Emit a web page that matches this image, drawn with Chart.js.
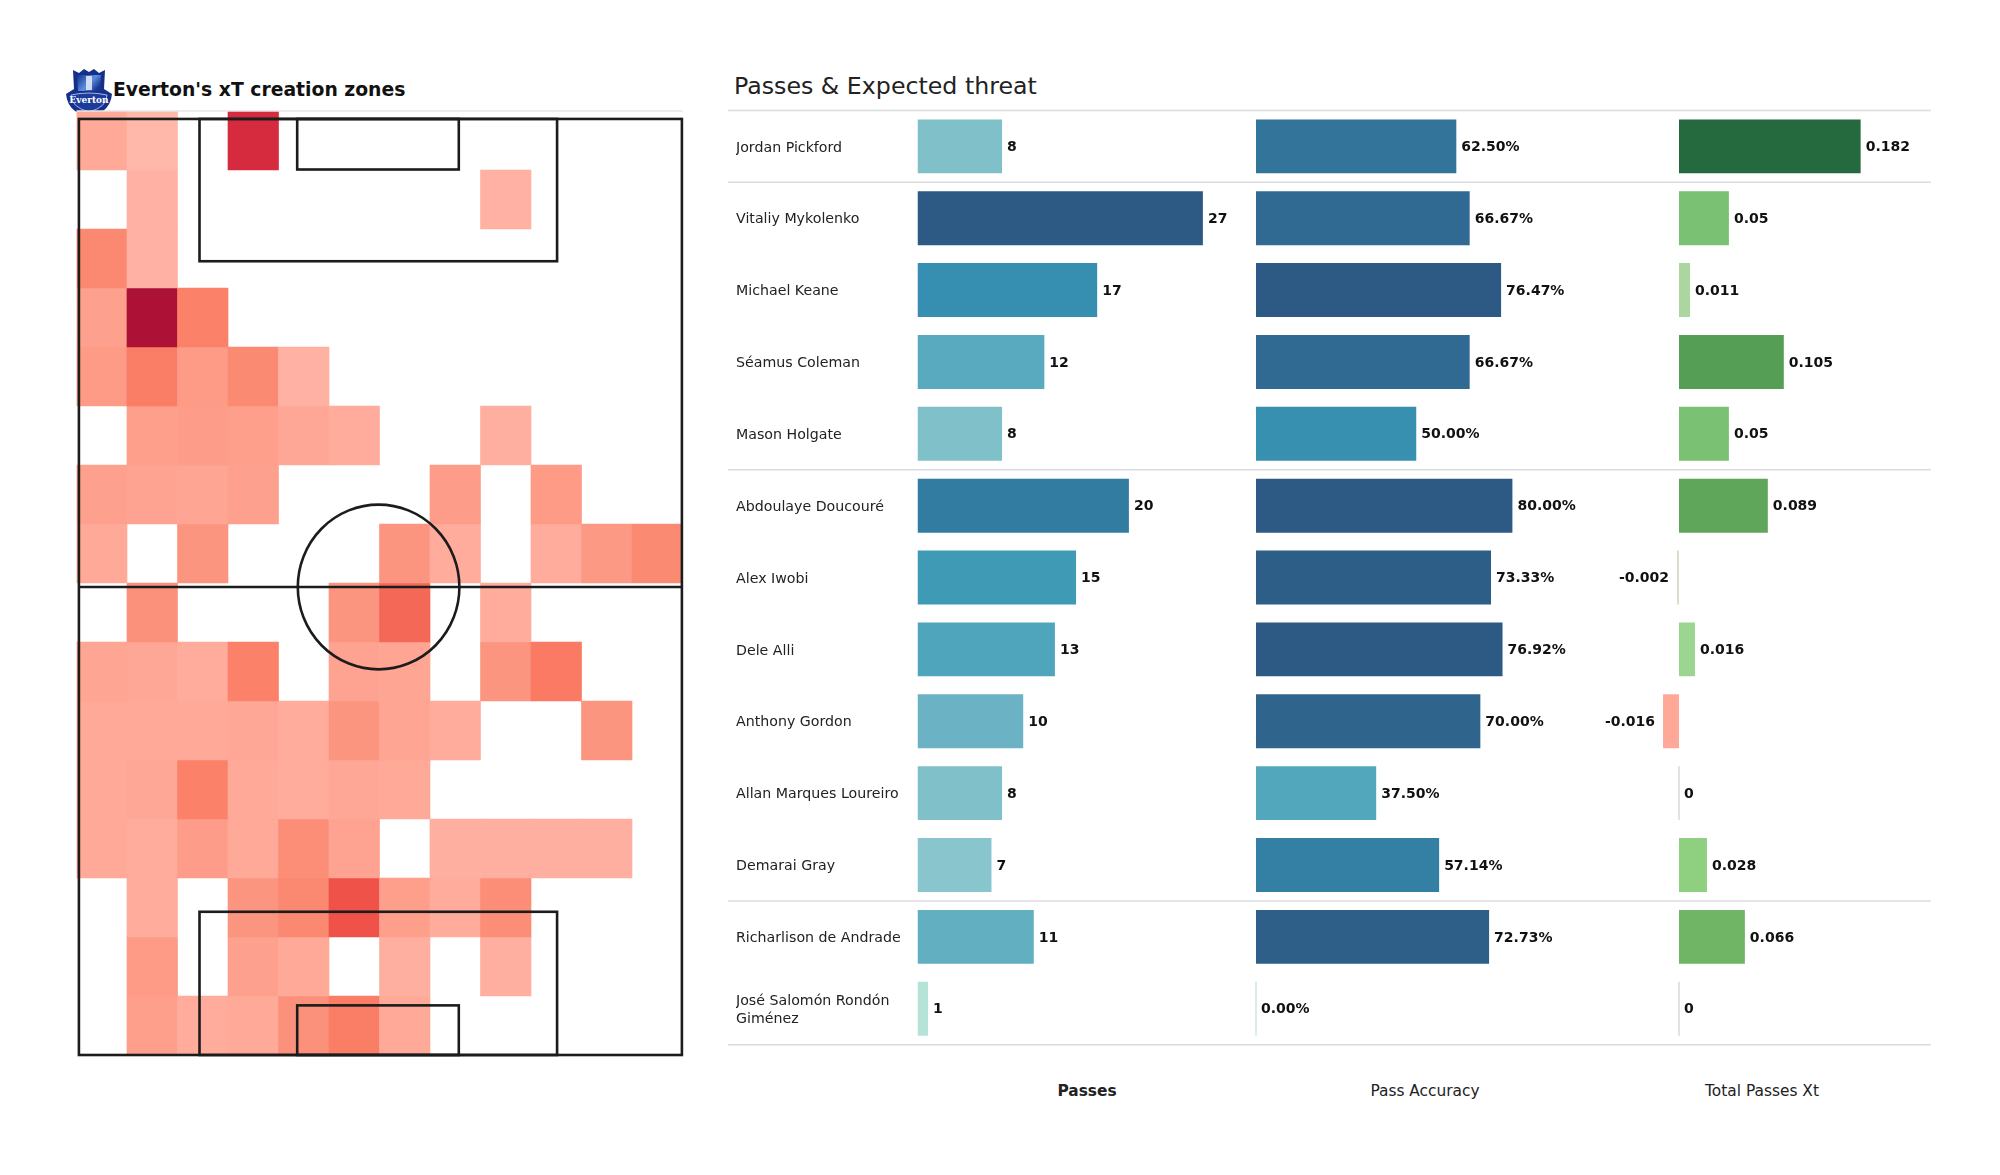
<!DOCTYPE html>
<html>
<head>
<meta charset="utf-8">
<script src="https://cdn.jsdelivr.net/npm/chart.js@4/dist/chart.umd.min.js"></script>
<style>
    body { margin: 0; width: 2000px; height: 1175px; background: #fff; overflow: hidden; position: relative; font-family: "DejaVu Sans", sans-serif; color: #111; }
    canvas { position: absolute; }
    .txt { position: absolute; white-space: nowrap; line-height: 1; transform: translateY(-50%); }
    .head { transform: translate(-50%, -50%); font-size: 15.4px; color: #222; }
</style>
</head>
<body>
<svg style="position:absolute;left:65px;top:67px" width="48" height="50" viewBox="0 0 48 50">
    <defs><linearGradient id="crest" x1="0" x2="1" y1="0" y2="0.6"><stop offset="0" stop-color="#12308a"/><stop offset="0.6" stop-color="#5f8fe0"/><stop offset="1" stop-color="#17368f"/></linearGradient></defs>
    <path d="M8 3 L14 6 L19 2 L24 5 L29 2 L34 6 L40 3 L39 22 L47 27 Q46 38 38 44 Q31 49 24 49 Q17 49 10 44 Q2 38 1 27 L9 22 Z" fill="#14308a"/>
    <path d="M12 8 L36 8 L35 24 L13 24 Z" fill="url(#crest)"/>
    <path d="M21 9 h6 v14 h-6 z" fill="#e6ecfb" opacity="0.85"/>
    <path d="M6 28 Q24 24 42 28 Q42 40 24 45 Q6 40 6 28 Z" fill="#1c3c9c" stroke="#c8d4f2" stroke-width="0.8"/>
    <text x="24" y="36" font-size="9" font-weight="bold" fill="#fff" text-anchor="middle" font-family="DejaVu Serif">Everton</text>
</svg>
<div class="txt" style="left:113px;top:90px;font-size:18.8px;font-weight:bold">Everton's xT creation zones</div>
<div class="txt" style="left:734px;top:87px;font-size:23.7px;color:#222">Passes &amp; Expected threat</div>
<div class="txt head" style="left:1087px;top:1092px;font-weight:bold">Passes</div>
<div class="txt head" style="left:1425px;top:1092px">Pass Accuracy</div>
<div class="txt head" style="left:1762px;top:1092px">Total Passes Xt</div>
<canvas id="pitch" width="620" height="960" style="left:70px;top:105px"></canvas>
<canvas id="bars" width="1203" height="1000" style="left:728px;top:80px"></canvas>

<script>
// Players table
const players = [
    'Jordan Pickford', 'Vitaliy Mykolenko', 'Michael Keane', 'Séamus Coleman', 'Mason Holgate',
    'Abdoulaye Doucouré', 'Alex Iwobi', 'Dele Alli', 'Anthony Gordon', 'Allan Marques Loureiro',
    'Demarai Gray', 'Richarlison de Andrade', ['José Salomón Rondón', 'Giménez']
];
const passes = [8, 27, 17, 12, 8, 20, 15, 13, 10, 8, 7, 11, 1];
const passAccuracy = [62.5, 66.67, 76.47, 66.67, 50, 80, 73.33, 76.92, 70, 37.5, 57.14, 72.73, 0];
const passesXt = [0.182, 0.05, 0.011, 0.105, 0.05, 0.089, -0.002, 0.016, -0.016, 0, 0.028, 0.066, 0];
// a line is drawn under these rows
const groupEnds = [0, 4, 10, 12];

// xT zones, 16 rows by 12 columns, top of the picture first. 0 = no cell
const heatColumns = ['c0', 'c1', 'c2', 'c3', 'c4', 'c5', 'c6', 'c7', 'c8', 'c9', 'c10', 'c11'];
const heat = [
    [.10, .05, 0, .85, 0, 0, 0, 0, 0, 0, 0, 0],
    [0, .07, 0, 0, 0, 0, 0, 0, .07, 0, 0, 0],
    [.27, .07, 0, 0, 0, 0, 0, 0, 0, 0, 0, 0],
    [.14, 1, .31, 0, 0, 0, 0, 0, 0, 0, 0, 0],
    [.17, .33, .17, .26, .07, 0, 0, 0, 0, 0, 0, 0],
    [0, .15, .16, .15, .11, .09, 0, 0, .08, 0, 0, 0],
    [.14, .13, .12, .14, 0, 0, 0, .16, 0, .17, 0, 0],
    [.10, 0, .20, 0, 0, 0, .20, .09, 0, .09, .18, .26],
    [0, .22, 0, 0, 0, .20, .52, 0, .09, 0, 0, 0],
    [.12, .11, .09, .30, 0, .13, .12, 0, .20, .36, 0, 0],
    [.10, .10, .10, .11, .09, .20, .12, .09, 0, 0, .20, 0],
    [.10, .11, .31, .10, .09, .11, .10, 0, 0, 0, 0, 0],
    [.10, .09, .16, .10, .24, .13, 0, .08, .08, .08, .08, 0],
    [0, .09, 0, .20, .27, .70, .15, .09, .24, 0, 0, 0],
    [0, .17, 0, .14, .10, 0, .08, 0, .08, 0, 0, 0],
    [0, .15, .09, .10, .22, .33, .10, 0, 0, 0, 0, 0]
];

// Pitch drawing in pitch units (0-100 both ways), x0 y0 x1 y1
const pitchBoxes = [
    [0, 0, 100, 100],
    [20, 0, 79.3, 15.2],
    [36.2, 0, 63, 5.4],
    [20, 84.7, 79.3, 100],
    [36.2, 94.7, 63, 100]
];
const halfwayLine = 50;
const centreCircle = { x: 49.7, y: 50, rx: 13.4, ry: 8.8 };

const heatStops = [[.05, '#ffb8aa'], [.10, '#ffa999'], [.15, '#fd9f8b'], [.20, '#fc9580'], [.30, '#fb8269'], [.40, '#f9745f'], [.55, '#f16555'], [.70, '#ee5248'], [.85, '#d62b3f'], [1, '#ad1135']];
const blueStops = [[.03, '#b8e3d8'], [.26, '#89c5cc'], [.296, '#7fc0c9'], [.37, '#6bb3c4'], [.44, '#5aabbf'], [.48, '#4fa6bc'], [.555, '#3f9ab5'], [.63, '#368fb0'], [.74, '#337ca1'], [.85, '#30678f'], [.95, '#2c5a85'], [1, '#2c5a85']];
const xtStops = [[-.016, '#ffa898'], [-.002, '#dcdccb'], [0, '#e2e2e2'], [.011, '#abd6a0'], [.016, '#9bd58f'], [.028, '#8fd080'], [.05, '#7bc173'], [.066, '#6fb565'], [.089, '#5fa65a'], [.105, '#559e55'], [.182, '#25693f']];

const hexToRgb = (hex) => [1, 3, 5].map(i => parseInt(hex.substr(i, 2), 16));

const rampColor = (stops, v) => {
    if (v <= stops[0][0]) return stops[0][1];
    for (let i = 1; i < stops.length; i++) {
        if (v <= stops[i][0]) {
            const t = (v - stops[i - 1][0]) / (stops[i][0] - stops[i - 1][0]);
            const a = hexToRgb(stops[i - 1][1]);
            const b = hexToRgb(stops[i][1]);
            return `rgb(${a.map((c, k) => Math.round(c + (b[k] - c) * t)).join(',')})`;
        }
    }
    return stops[stops.length - 1][1];
};

// Draws the pitch outline on top of the cells
const pitchLines = {
    id: 'pitchLines',
    afterDatasetsDraw(chart) {
        const { ctx, scales: { px, py } } = chart;
        ctx.save();
        ctx.strokeStyle = '#e6e6e6';
        ctx.lineWidth = 1.5;
        ctx.beginPath();
        ctx.moveTo(chart.chartArea.left, chart.chartArea.top);
        ctx.lineTo(chart.chartArea.right, chart.chartArea.top);
        ctx.stroke();
        ctx.strokeStyle = '#1c1c1c';
        ctx.lineWidth = 2.6;
        pitchBoxes.forEach(([x0, y0, x1, y1]) => {
            ctx.strokeRect(px.getPixelForValue(x0), py.getPixelForValue(y0),
                px.getPixelForValue(x1) - px.getPixelForValue(x0), py.getPixelForValue(y1) - py.getPixelForValue(y0));
        });
        ctx.beginPath();
        ctx.moveTo(px.getPixelForValue(0), py.getPixelForValue(halfwayLine));
        ctx.lineTo(px.getPixelForValue(100), py.getPixelForValue(halfwayLine));
        ctx.stroke();
        ctx.beginPath();
        ctx.ellipse(px.getPixelForValue(centreCircle.x), py.getPixelForValue(centreCircle.y),
            px.getPixelForValue(centreCircle.rx) - px.getPixelForValue(0),
            py.getPixelForValue(centreCircle.ry) - py.getPixelForValue(0), 0, 0, Math.PI * 2);
        ctx.stroke();
        ctx.restore();
    }
};

new Chart(document.getElementById('pitch'), {
    type: 'bar',
    data: {
        labels: heatColumns,
        datasets: heat.map((row, r) => ({
            data: row.map(v => v > 0 ? [r, r + 1] : null),
            backgroundColor: row.map(v => rampColor(heatStops, v)),
            barPercentage: 1,
            categoryPercentage: 1,
            grouped: false
        }))
    },
    options: {
        responsive: false,
        animation: false,
        layout: { padding: { left: 6.5, right: 7.5, top: 6, bottom: 10 } },
        plugins: { legend: { display: false }, tooltip: { enabled: false } },
        scales: {
            x: { display: false },
            y: { display: false, min: 0, max: 16, reverse: true },
            px: { display: false, type: 'linear', axis: 'x', offset: false, min: -0.4, max: 100.1 },
            py: { display: false, type: 'linear', axis: 'y', min: -0.85, max: 100, reverse: true }
        }
    },
    plugins: [pitchLines]
});

// The three panels share one chart, each with its own x axis. Zero position and px per unit come from the picture
const areaLeft = 917.5;
const areaRight = 1931;
const axisFor = (zeroX, pxPerUnit) => ({
    display: false,
    min: (areaLeft - zeroX) / pxPerUnit,
    max: (areaRight - zeroX) / pxPerUnit
});

const valueLabels = {
    id: 'valueLabels',
    afterDatasetsDraw(chart) {
        const { ctx } = chart;
        ctx.save();
        ctx.font = 'bold 14px "DejaVu Sans"';
        ctx.fillStyle = '#111';
        ctx.textBaseline = 'middle';
        chart.data.datasets.forEach((ds, i) => {
            chart.getDatasetMeta(i).data.forEach((bar, k) => {
                const v = ds.data[k];
                const txt = ds.format(v);
                ctx.textAlign = v < 0 ? 'right' : 'left';
                const x = v < 0 ? bar.x - 8 : bar.x + (v === 0 ? 6 : 5);
                ctx.fillText(txt, x, bar.y + 1);
            });
        });
        ctx.restore();
    }
};

const separators = {
    id: 'separators',
    beforeDatasetsDraw(chart) {
        const { ctx, scales: { y } } = chart;
        ctx.save();
        ctx.strokeStyle = '#dcdce0';
        ctx.lineWidth = 1.5;
        [-1, ...groupEnds].forEach(i => {
            const yy = y.getPixelForValue(i + 0.5);
            ctx.beginPath();
            ctx.moveTo(0, yy);
            ctx.lineTo(chart.width, yy);
            ctx.stroke();
        });
        ctx.restore();
    }
};

new Chart(document.getElementById('bars'), {
    type: 'bar',
    data: {
        labels: players,
        datasets: [
            {
                data: passes,
                xAxisID: 'xPasses',
                backgroundColor: passes.map(v => rampColor(blueStops, v / 27)),
                format: v => String(v)
            },
            {
                data: passAccuracy,
                xAxisID: 'xAccuracy',
                backgroundColor: passAccuracy.map(v => v === 0 ? '#dcecec' : rampColor(blueStops, v / 80)),
                format: v => v.toFixed(2) + '%'
            },
            {
                data: passesXt,
                xAxisID: 'xXt',
                backgroundColor: passesXt.map(v => rampColor(xtStops, v)),
                format: v => String(v)
            }
        ].map(ds => ({ ...ds, grouped: false, barPercentage: 0.75, categoryPercentage: 1, minBarLength: 2 }))
    },
    options: {
        indexAxis: 'y',
        responsive: false,
        animation: false,
        layout: { padding: { left: 8, right: 0, top: 30.4, bottom: 35.3 } },
        plugins: { legend: { display: false }, tooltip: { enabled: false } },
        scales: {
            xPasses: axisFor(917.5, 10.57),
            xAccuracy: axisFor(1256, 3.205),
            xXt: axisFor(1679, 998),
            y: {
                grid: { display: false },
                border: { display: false },
                afterFit: (axis) => { axis.width = 181.5; },
                ticks: {
                    crossAlign: 'far',
                    autoSkip: false,
                    labelOffset: 1.5,
                    color: '#222',
                    font: { family: '"DejaVu Sans"', size: 14.2, lineHeight: 1.25 }
                }
            }
        }
    },
    plugins: [separators, valueLabels]
});
</script>
</body>
</html>
